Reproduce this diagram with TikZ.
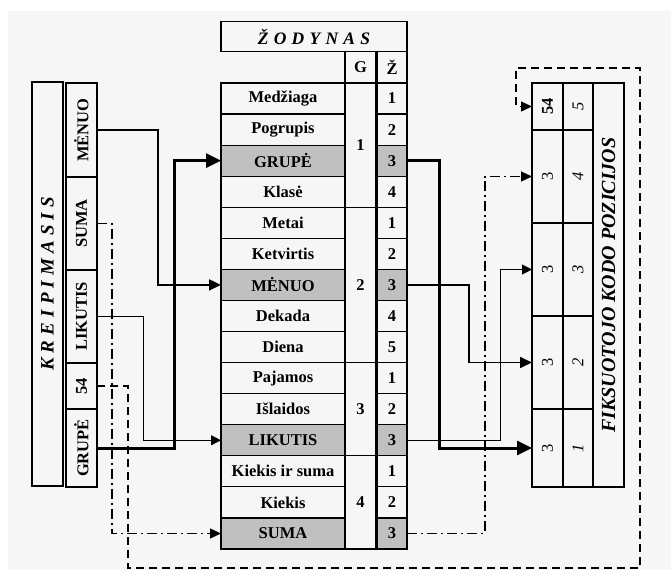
\documentclass[tikz,border=0pt]{standalone}
\usepackage{fontspec}
\setmainfont{Liberation Serif}
\usetikzlibrary{positioning,arrows.meta}
\definecolor{hitgray}{RGB}{192,192,192}
\definecolor{paper}{RGB}{246,246,246}

\begin{document}
\begin{tikzpicture}[
    x=1pt, y=-1pt,
    node distance=0pt,
    cell/.style={rectangle, draw, line width=1.2pt, inner sep=0pt, outer sep=0pt, font=\fontsize{16.5}{18}\selectfont\bfseries},
    word/.style={cell, minimum width=124pt, minimum height=31.07pt},
    num/.style={cell, minimum width=30pt, minimum height=31.07pt},
    grp/.style={cell, minimum width=31pt},
    field/.style={cell, minimum width=31pt},
    slot/.style={cell, minimum width=31pt, font=\fontsize{16.5}{18}\selectfont},
    hit/.style={fill=hitgray},
    arrow/.style={line width=1.7pt, -{Triangle[length=12pt,width=11pt]}},
    heavyarrow/.style={line width=3pt, -{Triangle[length=15pt,width=14pt]}},
    thinarrow/.style={line width=1pt, -{Triangle[length=10pt,width=10pt]}},
    dotarrow/.style={line width=1.3pt, dash pattern=on 10pt off 4pt on 2pt off 4pt, -{Triangle[length=11pt,width=10pt]}},
    dasharrow/.style={line width=1.3pt, dash pattern=on 8pt off 5pt, -{Triangle[length=11pt,width=10pt]}}
]

% Canvas
\useasboundingbox (0,0) rectangle (671,570);
\fill[paper] (8,11) rectangle (671,570);

% Kreipimasis
\node[cell, minimum width=31pt, minimum height=404pt, anchor=north west,
      font=\fontsize{19}{22}\selectfont\bfseries\itshape] (kreip) at (32,82) {\rotatebox{90}{\spaceskip=0.27em\relax K R E I P I M A S I S}};
\node[field, minimum height=94pt, anchor=north west] (kmenuo) at (66,83) {\rotatebox{90}{MĖNUO}};
\node[field, minimum height=93pt, below=of kmenuo] (ksuma) {\rotatebox{90}{SUMA}};
\node[field, minimum height=93pt, below=of ksuma] (klikutis) {\rotatebox{90}{LIKUTIS}};
\node[field, minimum height=46pt, below=of klikutis] (k54) {\rotatebox{90}{54}};
\node[field, minimum height=78pt, below=of k54] (kgrupe) {\rotatebox{90}{GRUPĖ}};

% Zodynas: words
\node[word] (w1) at (283,98.5) {Medžiaga};
\node[word, below=of w1] (w2) {Pogrupis};
\node[word, hit, below=of w2] (w3) {GRUPĖ};
\node[word, below=of w3] (w4) {Klasė};
\node[word, below=of w4] (w5) {Metai};
\node[word, below=of w5] (w6) {Ketvirtis};
\node[word, hit, below=of w6] (w7) {MĖNUO};
\node[word, below=of w7] (w8) {Dekada};
\node[word, below=of w8] (w9) {Diena};
\node[word, below=of w9] (w10) {Pajamos};
\node[word, below=of w10] (w11) {Išlaidos};
\node[word, hit, below=of w11] (w12) {LIKUTIS};
\node[word, below=of w12] (w13) {Kiekis ir suma};
\node[word, below=of w13] (w14) {Kiekis};
\node[word, hit, below=of w14] (w15) {SUMA};

% Zodynas: groups
\node[grp, minimum height=124.28pt, anchor=north west] (g1) at (w1.north east) {1};
\node[grp, minimum height=155.35pt, anchor=north west] (g2) at (w5.north east) {2};
\node[grp, minimum height=93.21pt, anchor=north west] (g3) at (w10.north east) {3};
\node[grp, minimum height=93.21pt, anchor=north west] (g4) at (w13.north east) {4};

% Zodynas: numbers
\node[num, right=32pt of w1] (z1) {1};
\node[num, below=of z1] (z2) {2};
\node[num, hit, below=of z2] (z3) {3};
\node[num, below=of z3] (z4) {4};
\node[num, below=of z4] (z5) {1};
\node[num, below=of z5] (z6) {2};
\node[num, hit, below=of z6] (z7) {3};
\node[num, below=of z7] (z8) {4};
\node[num, below=of z8] (z9) {5};
\node[num, below=of z9] (z10) {1};
\node[num, below=of z10] (z11) {2};
\node[num, hit, below=of z11] (z12) {3};
\node[num, below=of z12] (z13) {1};
\node[num, below=of z13] (z14) {2};
\node[num, hit, below=of z14] (z15) {3};

% Zodynas: header
\node[grp, minimum height=31.07pt, above=of g1] (gh) {G};
\node[num, above=of z1] (zh) {Ž};
\node[cell, minimum width=186pt, minimum height=30pt, anchor=south west,
      font=\fontsize{17.5}{20}\selectfont\bfseries\itshape] (title) at (w1.west |- zh.north) {\spaceskip=0.3em\relax Ž O D Y N A S};

% Fiksuotojo kodo pozicijos
\node[slot, minimum height=47pt, anchor=north west, font=\fontsize{16.5}{18}\selectfont\bfseries] (f1) at (532,83) {\rotatebox{90}{54}};
\node[slot, minimum height=93pt, below=of f1] (f2) {\rotatebox{90}{3}};
\node[slot, minimum height=93pt, below=of f2] (f3) {\rotatebox{90}{3}};
\node[slot, minimum height=93pt, below=of f3] (f4) {\rotatebox{90}{3}};
\node[slot, minimum height=78pt, below=of f4] (f5) {\rotatebox{90}{3}};
\node[slot, minimum width=30pt, minimum height=47pt, right=of f1, font=\fontsize{16.5}{18}\selectfont\itshape] (p1) {\rotatebox{90}{5}};
\node[slot, minimum width=30pt, minimum height=93pt, right=of f2, font=\fontsize{16.5}{18}\selectfont\itshape] (p2) {\rotatebox{90}{4}};
\node[slot, minimum width=30pt, minimum height=93pt, right=of f3, font=\fontsize{16.5}{18}\selectfont\itshape] (p3) {\rotatebox{90}{3}};
\node[slot, minimum width=30pt, minimum height=93pt, right=of f4, font=\fontsize{16.5}{18}\selectfont\itshape] (p4) {\rotatebox{90}{2}};
\node[slot, minimum width=30pt, minimum height=78pt, right=of f5, font=\fontsize{16.5}{18}\selectfont\itshape] (p5) {\rotatebox{90}{1}};
\node[cell, minimum width=31pt, minimum height=404pt, anchor=north west,
      font=\fontsize{20}{22}\selectfont\bfseries\itshape] (fiks) at (p1.north east) {\rotatebox{90}{FIKSUOTOJO KODO POZICIJOS}};

% Corners of the 54 loop
\coordinate (c54a) at (128,568);
\coordinate (c54b) at (640,68);

% Arrows: kreipimasis -> zodynas
\draw[arrow] (kmenuo.east) -- ++(61,0) |- (w7.west);
\draw[dotarrow] (ksuma.east) -- ++(15,0) |- (w15.west);
\draw[thinarrow] (klikutis.east) -- ++(46,0) |- (w12.west);
\draw[heavyarrow] (kgrupe.east) -- ++(77,0) |- (w3.west);
\draw[dasharrow] (k54.east) -| (c54a) -| (c54b) -| ([xshift=-16pt]f1.west) -- (f1.west);

% Arrows: zodynas -> pozicijos
\draw[heavyarrow] (z3.east) -- ++(32,0) |- (f5.west);
\draw[arrow] (z7.east) -- ++(62,0) |- (f4.west);
\draw[thinarrow] (z12.east) -- ++(93,0) |- (f3.west);
\draw[dotarrow] (z15.east) -- ++(78,0) |- (f2.west);

\end{tikzpicture}
\end{document}
